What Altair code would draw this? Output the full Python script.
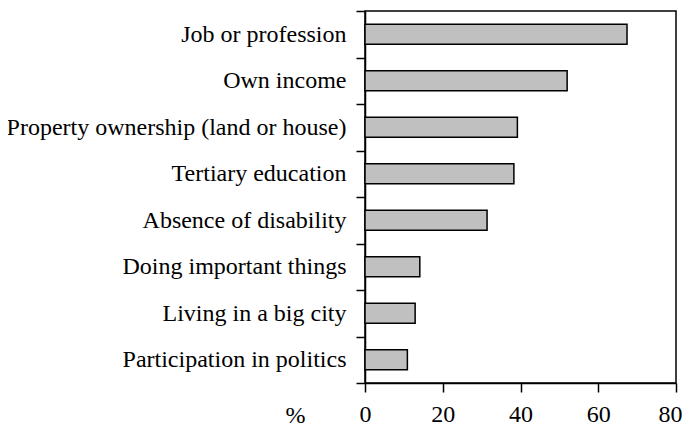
import altair as alt
import pandas as pd

categories = [
    "Job or profession",
    "Own income",
    "Property ownership (land or house)",
    "Tertiary education",
    "Absence of disability",
    "Doing important things",
    "Living in a big city",
    "Participation in politics",
]
values = [67.4, 52.0, 39.2, 38.3, 31.4, 14.1, 12.9, 10.9]
x_ticks = [0, 20, 40, 60, 80]

df = pd.DataFrame({"item": categories, "pct": values})

FONT = "Liberation Serif"
FS = 24

chart = alt.Chart(df).mark_bar(
    height=alt.RelativeBandSize(band=0.43),
    fill="#c0c0c0",
    stroke="black",
    strokeWidth=1.5,
).encode(
    x=alt.X(
        "pct:Q",
        scale=alt.Scale(domain=[0, 80], nice=False),
        axis=alt.Axis(
            values=x_ticks,
            title="%",
            titleX=-70,
            titleY=39,
            titleAngle=0,
            titleAlign="center",
            titleBaseline="alphabetic",
            titleFont=FONT,
            titleFontSize=FS,
            titleFontWeight="normal",
            titleColor="black",
            labelFont=FONT,
            labelFontSize=FS,
            labelColor="black",
            labelPadding=10,
            labelOffset=alt.condition("datum.value == 80", alt.value(-6), alt.value(0)),
            tickSize=9,
            tickColor="black",
            tickWidth=1.5,
            domainColor="black",
            domainWidth=1.5,
            grid=False,
            labelFlush=False,
            labelOverlap=False,
        ),
    ),
    y=alt.Y(
        "item:N",
        sort=categories,
        scale=alt.Scale(paddingInner=0, paddingOuter=0),
        axis=alt.Axis(
            title=None,
            tickBand="extent",
            labelFont=FONT,
            labelFontSize=FS,
            labelColor="black",
            labelPadding=10,
            labelLimit=400,
            tickSize=9,
            tickColor="black",
            tickWidth=1.5,
            domainColor="black",
            domainWidth=1.5,
            grid=False,
        ),
    ),
).properties(
    width=311,
    height=372,
    autosize=alt.AutoSizeParams(type="none"),
    padding={"left": 357, "top": 3, "right": 6, "bottom": 41},
).configure_view(
    stroke="black",
    strokeWidth=1.5,
)

chart.save("out.html", embed_options={"renderer": "svg", "actions": False})
